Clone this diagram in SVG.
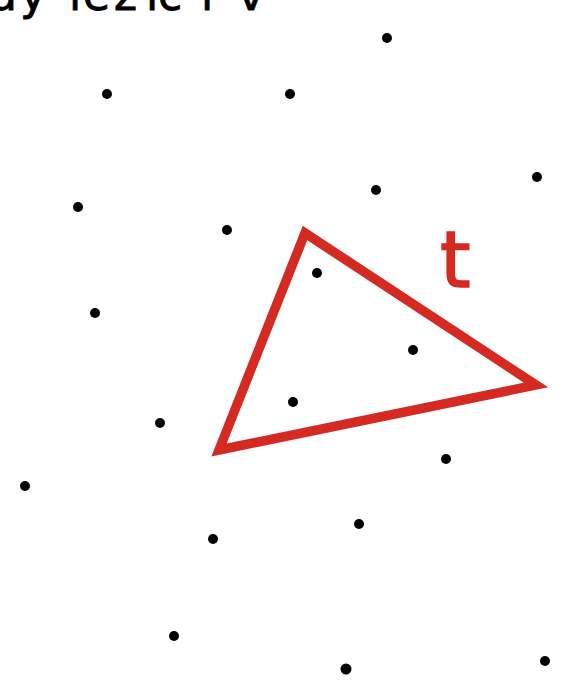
<svg xmlns="http://www.w3.org/2000/svg" width="563" height="695" viewBox="0 0 563 695">
<style>
.dot{fill:#000}
.title{font-family:"DejaVu Sans",Verdana,sans-serif;font-size:44px;fill:#000;stroke:#000;stroke-width:0.8px}
.lbl{font-family:"DejaVu Sans",Verdana,sans-serif;font-size:78px;fill:#d42a22;stroke:#d42a22;stroke-width:1.6px}
</style>
<rect width="563" height="695" fill="#fff"/>
<text class="title" x="-11 20 46 69 83 114 146 158 201 224 238" y="10">dy ležící v</text>
<g id="points">
<circle class="dot" cx="387" cy="38" r="5"/>
<circle class="dot" cx="107" cy="94" r="5"/>
<circle class="dot" cx="290" cy="94" r="5"/>
<circle class="dot" cx="376" cy="190" r="5"/>
<circle class="dot" cx="537" cy="177" r="5"/>
<circle class="dot" cx="78" cy="207" r="5"/>
<circle class="dot" cx="227" cy="230" r="5"/>
<circle class="dot" cx="317" cy="273" r="5"/>
<circle class="dot" cx="95" cy="313" r="5"/>
<circle class="dot" cx="413" cy="350" r="5"/>
<circle class="dot" cx="293" cy="402" r="5"/>
<circle class="dot" cx="160" cy="423" r="5"/>
<circle class="dot" cx="446" cy="459" r="5"/>
<circle class="dot" cx="25" cy="486" r="5"/>
<circle class="dot" cx="359" cy="524" r="5"/>
<circle class="dot" cx="213" cy="539" r="5"/>
<circle class="dot" cx="174" cy="636" r="5"/>
<circle class="dot" cx="346" cy="669" r="5.5"/>
<circle class="dot" cx="545" cy="661" r="5"/>
</g>
<g id="triangle">
<polygon points="305,233 536,385 219,450" fill="none" stroke="#d42a22" stroke-width="9.5" stroke-linejoin="miter"/>
<text class="lbl" x="440" y="287">t</text>
</g>
</svg>
